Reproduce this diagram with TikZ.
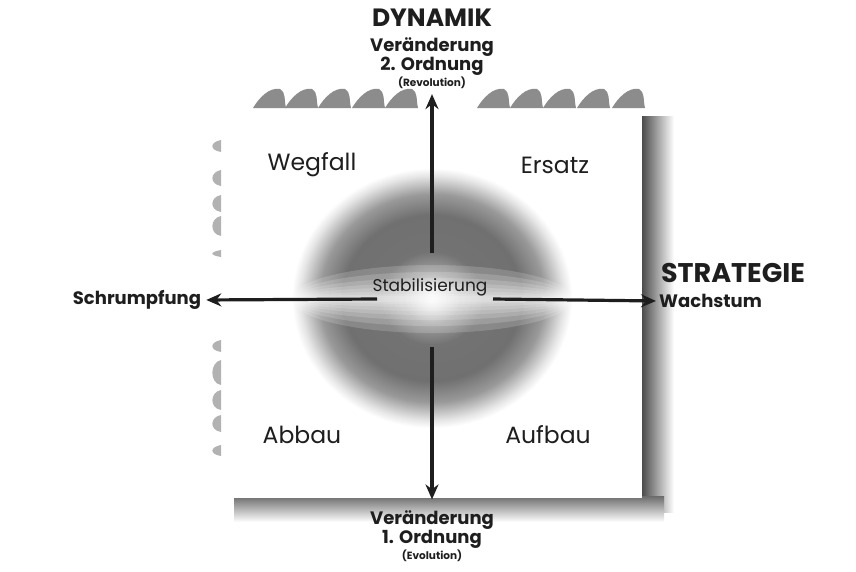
\documentclass[tikz,border=0pt]{standalone}
\usepackage{fontspec}
\setmainfont{Poppins}
\usetikzlibrary{arrows.meta}
\pgfdeclareradialshading{blob}{\pgfpoint{0bp}{0bp}}{color(0bp)=(white); color(1.5bp)=(black!12); color(5bp)=(black!38); color(9bp)=(black!55); color(16bp)=(black!56); color(20bp)=(black!40); color(23.5bp)=(black!10); color(25bp)=(white); color(50bp)=(white)}
\definecolor{ink}{HTML}{1E1E1E}
\begin{document}
\begin{tikzpicture}[x=1pt,y=-1pt,
  qtext/.style={text=ink, font=\fontsize{23.5}{27}\selectfont, inner sep=0pt},
  axlab/.style={text=ink, font=\fontsize{18}{21}\selectfont\bfseries, inner sep=0pt},
  small/.style={text=ink, font=\fontsize{10.5}{12}\selectfont\bfseries, inner sep=0pt},
  stab/.style={text=ink, font=\fontsize{17}{20}\selectfont, inner sep=0pt},
  ttl/.style={text=ink, font=\fontsize{27}{30}\selectfont\bfseries, inner sep=0pt},
  arr/.style={ink, line width=3.2pt, -{Stealth[length=15pt,width=13pt]}},
  blotch/.style={fill=black!45},
  sidebit/.style={fill=black!30}]
\useasboundingbox (0,0) rectangle (856,571);
% box with shadows
\shade[left color=black!70, right color=white] (642,116) rectangle (674,512);
\shade[top color=black!58, bottom color=white] (234,496) rectangle (664,522);
\fill[white] (225,108) rectangle (642,498);
% top scallops
\foreach \x in {253,285,318,352,385}{
  \fill[blotch] (\x,108) .. controls (\x+6,98) and (\x+16,87) .. (\x+27,89) .. controls (\x+33,92) and (\x+31,100) .. (\x+33,108) -- cycle;}
\foreach \x in {477,510,543,577,612}{
  \fill[blotch] (\x,108) .. controls (\x+6,98) and (\x+16,87) .. (\x+27,89) .. controls (\x+33,92) and (\x+31,100) .. (\x+33,108) -- cycle;}
% left bits
\foreach \ya/\yb in {140/152,170/186,195/212,216/236,250/257,340/352,360/385,390/410,415/432,445/456}{
  \fill[sidebit] (221,\ya) .. controls (210,\ya+2) and (209,\yb-2) .. (221,\yb) -- cycle;}
% central blob
\shade[shading=blob] (432,298) ellipse [x radius=140pt, y radius=130pt];
\foreach \r in {34,27,21,16,12,8,5,3}{
  \fill[white, opacity=0.17] (432,299) ellipse [x radius=140pt, y radius=\r pt];}
% labels
\node[qtext] (weg) at (312,165) {Wegfall};
\node[qtext] (ers) at (555,165) {Ersatz};
\node[qtext] (abb) at (302,435) {Abbau};
\node[qtext] (auf) at (548,435) {Aufbau};
\node[stab] (stab) at (430,287) {Stabilisierung};
\node[axlab] (schr) at (137,300) {Schrumpfung};
\node[axlab, anchor=west] (wach) at (659,301) {Wachstum};
\node[ttl] (stra) at (733,273) {STRATEGIE};
\node[ttl, font=\fontsize{25}{28}\selectfont\bfseries] (dyn) at (432,18) {DYNAMIK};
\node[axlab] (t1) at (432,47) {Veränderung};
\node[axlab] (t2) at (432,66) {2. Ordnung};
\node[small] (t3) at (432,83) {(Revolution)};
\node[axlab] (b1) at (432,520) {Veränderung};
\node[axlab] (b2) at (432,539) {1. Ordnung};
\node[small] (b3) at (432,556) {(Evolution)};
% arrows
\coordinate (cu) at (432,253);
\coordinate (cd) at (432,347);
\coordinate (cl) at (377,299);
\coordinate (cr) at (493,299);
\draw[arr, shorten >=5pt] (cu) -- (t3.south);
\draw[arr, shorten >=11pt] (cd) -- (b1.north);
\draw[arr, shorten >=5pt] (cl) -- (schr.east);
\draw[arr, shorten >=3pt] (cr) -- (wach.west);
\end{tikzpicture}
\end{document}
